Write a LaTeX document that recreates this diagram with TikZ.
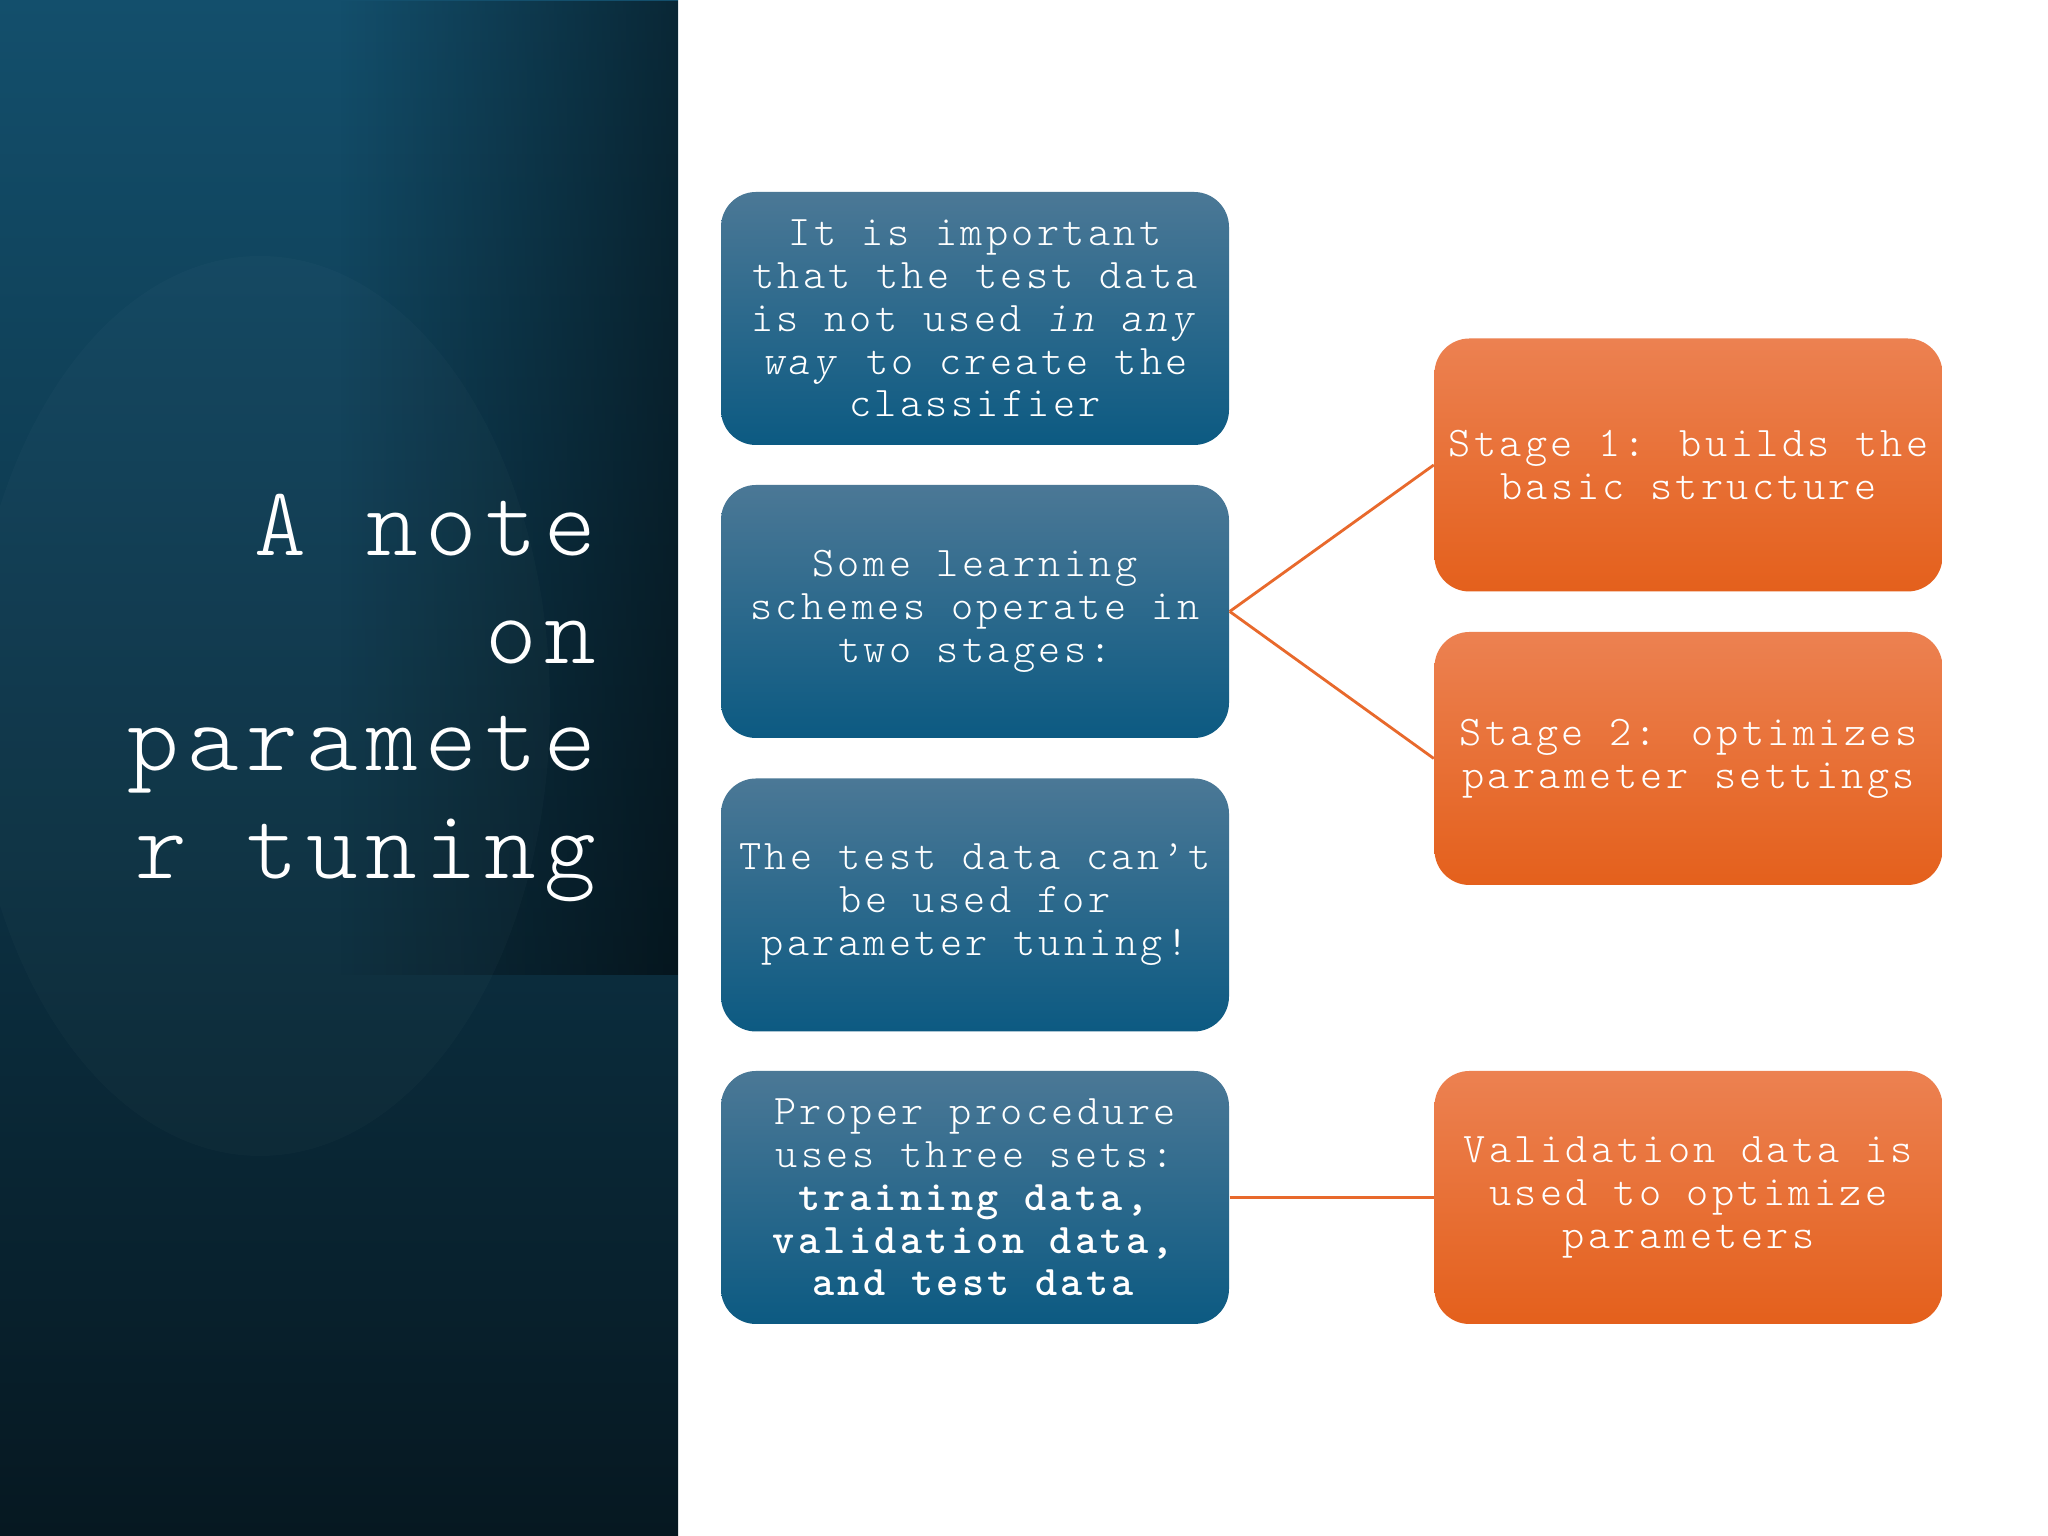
\documentclass[tikz,border=0pt]{standalone}
\usepackage{fontspec}
\usetikzlibrary{fadings}

\newfontfamily\courfont[Extension=.otf, LetterSpace=8,
  UprightFont=lmmonolt10-regular, ItalicFont=lmmonolt10-oblique,
  BoldFont=lmmonolt10-bold, BoldItalicFont=lmmonolt10-boldoblique]{lmmonolt10-regular}

\definecolor{panelTop}{HTML}{134F6C}
\definecolor{panelBot}{HTML}{061821}
\definecolor{blueTop}{HTML}{4B7896}
\definecolor{blueBot}{HTML}{0C5A82}
\definecolor{orangeTop}{HTML}{EC8151}
\definecolor{orangeBot}{HTML}{E4601C}
\definecolor{linkOrange}{HTML}{E8692C}

\tikzfading[name=darkright, left color=transparent!100, right color=transparent!50]

\tikzset{
  bluebox/.style={rounded corners=0.35cm, top color=blueTop, bottom color=blueBot,
    minimum width=5.08cm, minimum height=2.53cm, inner sep=0pt,
    text=white, align=center, font=\courfont\fontsize{12}{12.2}\selectfont},
  orangebox/.style={bluebox, top color=orangeTop, bottom color=orangeBot},
  link/.style={linkOrange, line width=0.8pt}
}

\begin{document}
\begin{tikzpicture}

\useasboundingbox (0,0) rectangle (20.48,15.36);
\fill[white] (0,0) rectangle (20.48,15.36);

% left panel
\shade[top color=panelTop, bottom color=panelBot] (0,0) rectangle (6.78,15.36);
\begin{scope}
\clip (0,0) rectangle (6.78,15.36);
\fill[black, path fading=darkright] (3.4,5.61) rectangle (6.78,15.36);
\fill[white, opacity=0.02] (2.6,8.3) ellipse (2.9 and 4.5);
\end{scope}

\node[anchor=east, inner sep=0pt, align=right, text=white,
  font=\courfont\fontsize{28}{30.6}\selectfont] (title) at (5.97,8.38)
  {A note\\on\\paramete\\r tuning};

% boxes
\node[bluebox] (important) at (9.75,12.175) {It is important\\that the test data\\is not used \textit{in any}\\\textit{way} to create the\\classifier};
\node[bluebox] (twostage) at (9.75,9.245) {Some learning\\schemes operate in\\two stages:};
\node[bluebox] (notuning) at (9.75,6.31) {The test data can’t\\be used for\\parameter tuning!};
\node[bluebox] (proper) at (9.75,3.385) {Proper procedure\\uses three sets:\\\textbf{training data,}\\\textbf{validation data,}\\\textbf{and test data}};

\node[orangebox] (stageone) at (16.885,10.71) {Stage 1: builds the\\basic structure};
\node[orangebox] (stagetwo) at (16.885,7.775) {Stage 2: optimizes\\parameter settings};
\node[orangebox] (validation) at (16.885,3.385) {Validation data is\\used to optimize\\parameters};

% connectors
\draw[link] (twostage.east) -- (stageone.west);
\draw[link] (twostage.east) -- (stagetwo.west);
\draw[link] (proper.east) -- (validation.west);

\end{tikzpicture}
\end{document}
